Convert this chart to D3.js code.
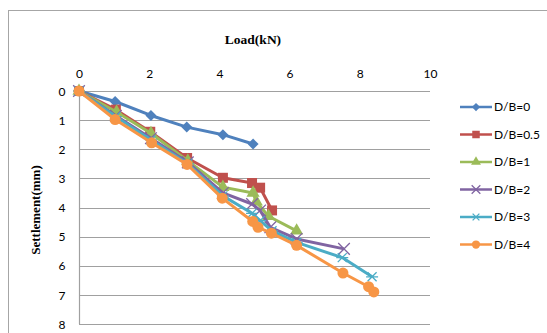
<!DOCTYPE html>
<html><head><meta charset="utf-8">
<script src="https://cdn.jsdelivr.net/npm/d3@7"></script>
<style>body{margin:0;background:#fff}svg{display:block}</style>
</head><body>
<svg id="c" width="547" height="333"></svg>
<script>
const xTicks = [0, 2, 4, 6, 8, 10];
const yTicks = [0, 1, 2, 3, 4, 5, 6, 7, 8];
const seriesNames = ["D/B=0", "D/B=0.5", "D/B=1", "D/B=2", "D/B=3", "D/B=4"];
const db0 = [[0,0],[1.03,0.36],[2.05,0.84],[3.07,1.24],[4.1,1.5],[4.96,1.82]];
const db05 = [[0,0],[1.05,0.64],[2.03,1.4],[3.08,2.3],[4.1,2.98],[4.93,3.16],[5.16,3.32],[5.5,4.1]];
const db1 = [[0,0],[1.07,0.72],[2.05,1.45],[3.1,2.4],[4.1,3.3],[4.96,3.5],[5.05,3.8],[5.4,4.3],[6.2,4.8]];
const db2 = [[0,0],[1.05,0.85],[2.05,1.62],[3.1,2.45],[4.1,3.5],[4.93,3.88],[5.16,4.1],[5.45,4.68],[6.2,5.08],[7.55,5.42]];
const db3 = [[0,0],[1.05,0.88],[2.05,1.68],[3.1,2.5],[4.1,3.6],[4.93,4.2],[5.16,4.45],[5.5,4.8],[6.2,5.2],[7.5,5.72],[8.35,6.38]];
const db4 = [[0,0],[1.03,0.98],[2.07,1.78],[3.08,2.52],[4.08,3.68],[4.95,4.48],[5.1,4.68],[5.48,4.88],[6.2,5.3],[7.52,6.25],[8.25,6.72],[8.4,6.9]];
const allSeries = [db0, db05, db1, db2, db3, db4];
const colors = ["#4F81BD", "#C0504D", "#9BBB59", "#8064A2", "#4BACC6", "#F79646"];
const markers = ["diamond", "square", "triangle", "x", "star", "circle"];

const svg = d3.select("#c");
svg.append("rect").attr("x", 8.5).attr("y", 10.5).attr("width", 560).attr("height", 340)
  .attr("fill", "none").attr("stroke", "#a6a6a6").attr("stroke-width", 1);

const x = d3.scaleLinear().domain([0, 10]).range([79, 430]);
const y = d3.scaleLinear().domain([0, 8]).range([91, 324]);

svg.append("g").selectAll("line").data(yTicks).join("line")
  .attr("x1", x(0)).attr("x2", x(10))
  .attr("y1", d => Math.round(y(d)) + 0.5).attr("y2", d => Math.round(y(d)) + 0.5)
  .attr("stroke", "#a0a0a0").attr("stroke-width", 1.2);
svg.append("line").attr("x1", x(0) + 0.5).attr("x2", x(0) + 0.5).attr("y1", y(0)).attr("y2", y(8))
  .attr("stroke", "#a0a0a0").attr("stroke-width", 1.2);

const xAxis = svg.append("g").attr("transform", `translate(0,${y(0) - 16})`)
  .call(d3.axisTop(x).tickValues(xTicks).tickSize(0).tickPadding(0).tickFormat(d3.format("d")));
xAxis.select(".domain").remove();
xAxis.selectAll("text").attr("font-family", "Lato, 'Open Sans', sans-serif").attr("font-size", 12).attr("fill", "#000")
  .attr("dy", "0.35em").attr("y", -1);
const yAxis = svg.append("g").attr("transform", `translate(${x(0) - 16},0)`)
  .call(d3.axisLeft(y).tickValues(yTicks).tickSize(0).tickPadding(0).tickFormat(d3.format("d")));
yAxis.select(".domain").remove();
yAxis.selectAll("text").attr("font-family", "Lato, 'Open Sans', sans-serif").attr("font-size", 12).attr("fill", "#000")
  .attr("text-anchor", "middle").attr("x", -1).attr("dy", "0.35em");

svg.append("text").attr("x", 253).attr("y", 44).attr("text-anchor", "middle")
  .attr("font-family", "'Liberation Serif', 'Times New Roman', serif").attr("font-weight", "bold").attr("font-size", 13.5)
  .text("Load(kN)");
svg.append("text").attr("transform", "translate(40,210) rotate(-90)").attr("text-anchor", "middle")
  .attr("font-family", "'Liberation Serif', 'Times New Roman', serif").attr("font-weight", "bold").attr("font-size", 13)
  .text("Settlement(mm)");

const line = d3.line().x(d => x(d[0])).y(d => y(d[1]));

function drawMarker(g, type, color, cx, cy, k) {
  if (type === "diamond") {
    const r = 5.5 * k;
    g.append("path").attr("d", `M${cx},${cy - r}L${cx + r},${cy}L${cx},${cy + r}L${cx - r},${cy}Z`).attr("fill", color);
  } else if (type === "square") {
    const h = 5 * k;
    g.append("rect").attr("x", cx - h).attr("y", cy - h).attr("width", 2 * h).attr("height", 2 * h).attr("fill", color);
  } else if (type === "triangle") {
    g.append("path").attr("d", d3.symbol(d3.symbolTriangle, 75 * k * k)()).attr("transform", `translate(${cx},${cy})`).attr("fill", color);
  } else if (type === "x") {
    g.append("path").attr("d", d3.symbol(d3.symbolX, 90 * k * k)()).attr("transform", `translate(${cx},${cy})`)
      .attr("fill", "none").attr("stroke", color).attr("stroke-width", 1.3);
  } else if (type === "star") {
    const r = 6 * k;
    const d = `M${cx - r},${cy}L${cx + r},${cy}M${cx - r * 0.75},${cy - r * 0.75}L${cx + r * 0.75},${cy + r * 0.75}M${cx - r * 0.75},${cy + r * 0.75}L${cx + r * 0.75},${cy - r * 0.75}`;
    g.append("path").attr("d", d).attr("fill", "none").attr("stroke", color).attr("stroke-width", 1.3);
  } else if (type === "circle") {
    g.append("circle").attr("cx", cx).attr("cy", cy).attr("r", 5.5 * k).attr("fill", color);
  }
}

allSeries.forEach((data, i) => {
  const g = svg.append("g");
  g.append("path").datum(data).attr("d", line).attr("fill", "none")
    .attr("stroke", colors[i]).attr("stroke-width", 3).attr("stroke-linejoin", "round");
  data.forEach(d => drawMarker(g, markers[i], colors[i], x(d[0]), y(d[1]), 1));
});

const legend = svg.append("g");
seriesNames.forEach((name, i) => {
  const ly = 107 + i * 27.5;
  legend.append("line").attr("x1", 460).attr("x2", 492).attr("y1", ly).attr("y2", ly)
    .attr("stroke", colors[i]).attr("stroke-width", 2.5);
  drawMarker(legend, markers[i], colors[i], 476, ly, 0.75);
  legend.append("text").attr("x", 494).attr("y", ly).attr("dy", "0.35em")
    .attr("font-family", "Lato, 'Open Sans', sans-serif").attr("font-size", 12).text(name);
});
</script>
</body></html>
